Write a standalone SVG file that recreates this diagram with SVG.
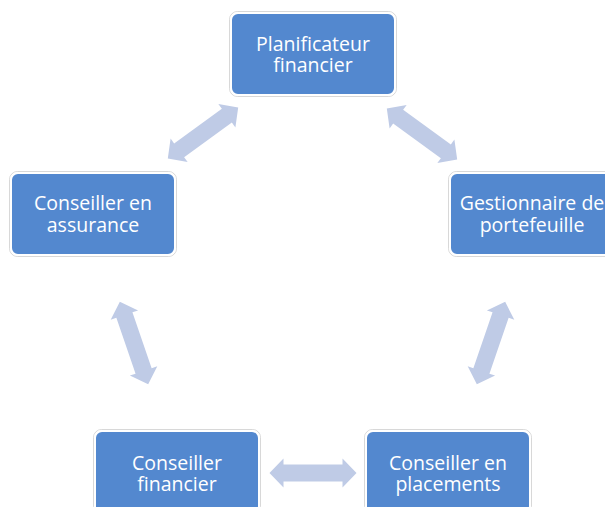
<svg xmlns="http://www.w3.org/2000/svg" width="605" height="507" viewBox="0 0 605 507">
  <style>
    .box { fill: #5388cf; stroke: #ffffff; stroke-width: 2; }
    .halo { fill: none; stroke: #c8c8c8; stroke-width: 1; opacity: 0.7; }
    .lbl { font-family: "Open Sans", "Noto Sans", "DejaVu Sans", sans-serif; font-size: 19.5px; fill: #ffffff; text-anchor: middle; }
    .arr { fill: #bfcbe6; }
  </style>
  <defs>
    <polygon id="dbl" points="-43.5,0 -29.5,-14.5 -29.5,-8.5 29.5,-8.5 29.5,-14.5 43.5,0 29.5,14.5 29.5,8.5 -29.5,8.5 -29.5,14.5"/>
  </defs>
  <rect width="605" height="507" fill="#ffffff"/>
  <g id="connectors">
    <use href="#dbl" class="arr" transform="translate(203,133) rotate(-36)"/>
    <use href="#dbl" class="arr" transform="translate(422,134) rotate(36)"/>
    <use href="#dbl" class="arr" transform="translate(134,343) rotate(71)"/>
    <use href="#dbl" class="arr" transform="translate(491,343) rotate(109)"/>
    <use href="#dbl" class="arr" transform="translate(313,473)"/>
  </g>
  <g id="node-planificateur">
    <rect class="halo" x="229.5" y="11.5" width="167" height="85" rx="8"/>
    <rect class="box" x="231" y="13" width="164" height="82" rx="7"/>
    <text class="lbl"><tspan x="313" y="50.5">Planificateur</tspan><tspan x="313" y="72">financier</tspan></text>
  </g>
  <g id="node-assurance">
    <rect class="halo" x="9.5" y="171.5" width="167" height="85" rx="8"/>
    <rect class="box" x="11" y="173" width="164" height="82" rx="7"/>
    <text class="lbl"><tspan x="93" y="210">Conseiller en</tspan><tspan x="93" y="232">assurance</tspan></text>
  </g>
  <g id="node-gestionnaire">
    <rect class="halo" x="448.5" y="171.5" width="167" height="85" rx="8"/>
    <rect class="box" x="450" y="173" width="164" height="82" rx="7"/>
    <text class="lbl"><tspan x="532" y="210">Gestionnaire de</tspan><tspan x="532" y="232">portefeuille</tspan></text>
  </g>
  <g id="node-financier">
    <rect class="halo" x="93.5" y="429.5" width="167" height="85" rx="8"/>
    <rect class="box" x="95" y="431" width="164" height="82" rx="7"/>
    <text class="lbl"><tspan x="177" y="469.5">Conseiller</tspan><tspan x="177" y="491">financier</tspan></text>
  </g>
  <g id="node-placements">
    <rect class="halo" x="364.5" y="429.5" width="167" height="85" rx="8"/>
    <rect class="box" x="366" y="431" width="164" height="82" rx="7"/>
    <text class="lbl"><tspan x="448" y="469.5">Conseiller en</tspan><tspan x="448" y="491">placements</tspan></text>
  </g>
</svg>
